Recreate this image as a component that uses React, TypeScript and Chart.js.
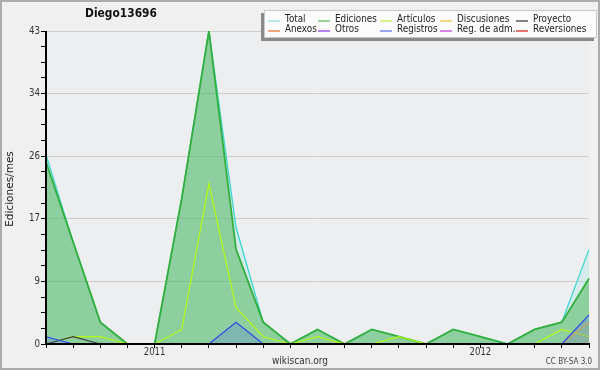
import React, { useEffect, useRef } from 'react';
import { Chart, registerables } from 'chart.js';
Chart.register(...registerables);

const months = ['2010-09','2010-10','2010-11','2010-12','2011-01','2011-02','2011-03','2011-04','2011-05','2011-06','2011-07','2011-08','2011-09','2011-10','2011-11','2011-12','2012-01','2012-02','2012-03','2012-04','2012-05'];
const xTickLabels = ['','','','','2011','','','','','','','','','','','','2012','','','',''];
const yMax = 43;
const yTickValues = [0, 8.6, 17.2, 25.8, 34.4, 43];
const yTickLabels = ['0', '9', '17', '26', '34', '43'];

const total =       [26,14,3,0,0,20,43,16,3,0,2,0,2,1,0,2,1,0,2,3,13];
const ediciones =   [25,14,3,0,0,20,43,13,3,0,2,0,2,1,0,2,1,0,2,3,9];
const articulos =   [0,1,1,0,0,2,22,5,1,0,1,0,0,1,0,0,0,0,0,2,1];
const discusiones = [0,0,0,0,0,0,0,0,0,0,0,0,0,0,0,0,0,0,0,0,3];
const proyecto =    [0,1,0,0,0,0,0,0,0,0,0,0,0,0,0,0,0,0,0,0,0];
const anexos =      [0,0,0,0,0,0,0,0,0,0,0,0,0,0,0,0,0,0,0,0,0];
const otros =       [0,0,0,0,0,0,0,0,0,0,0,0,0,0,0,0,0,0,0,0,0];
const registros =   [1,0,0,0,0,0,0,3,0,0,0,0,0,0,0,0,0,0,0,0,4];
const regAdm =      [0,0,0,0,0,0,0,0,0,0,0,0,0,0,0,0,0,0,0,0,0];
const reversiones = [0,0,0,0,0,0,0,0,0,0,0,0,0,0,0,0,0,0,0,0,0];

const seriesNames = ['Total','Ediciones','Artículos','Discusiones','Proyecto','Anexos','Otros','Registros','Reg. de adm.','Reversiones'];
const seriesData = [total, ediciones, articulos, discusiones, proyecto, anexos, otros, registros, regAdm, reversiones];
const lineColors = ['rgb(60,215,205)','rgb(50,175,60)','rgb(180,250,20)','rgb(225,180,70)','rgb(60,60,60)','rgb(240,120,70)','rgb(140,60,230)','rgb(50,70,240)','rgb(190,70,220)','rgb(220,50,50)'];
const fillColors = ['rgba(90,225,215,0.16)','rgba(70,180,80,0.5)',false,'rgba(225,180,70,0.15)',false,false,false,'rgba(60,80,255,0.18)',false,false];
const legendColors = ['rgb(160,228,228)','rgb(120,200,120)','rgb(200,240,100)','rgb(240,205,90)','rgb(90,90,90)','rgb(240,135,85)','rgb(160,90,235)','rgb(125,135,240)','rgb(205,95,225)','rgb(225,70,70)'];
const lineWidths = [1.3,1.8,1.2,1.2,1.2,1,1,1.2,1,1];

const FONT = '"DejaVu Sans", sans-serif';

function drawText(ctx: CanvasRenderingContext2D, s: string, x: number, y: number, font: string, color: string, align: CanvasTextAlign, sx = 1, rot = 0) {
  ctx.save();
  ctx.font = font;
  ctx.fillStyle = color;
  ctx.textBaseline = 'middle';
  ctx.textAlign = align;
  ctx.translate(x, y);
  if (rot) ctx.rotate(rot);
  ctx.scale(sx, 1);
  ctx.fillText(s, 0, 0);
  ctx.restore();
}

const decorPlugin = {
  id: 'decor',
  beforeDraw(chart: any) {
    const ctx = chart.ctx as CanvasRenderingContext2D;
    const { left, right, top, bottom } = chart.chartArea;
    ctx.save();
    ctx.fillStyle = '#f0f0f0';
    ctx.fillRect(0, 0, chart.width, chart.height);
    ctx.strokeStyle = '#ababab';
    ctx.lineWidth = 2;
    ctx.strokeRect(1, 1, chart.width - 2, chart.height - 2);
    ctx.fillStyle = '#edeef0';
    ctx.fillRect(left, top, right - left, bottom - top);
    ctx.restore();
  },
  afterDatasetsDraw(chart: any) {
    const ctx = chart.ctx as CanvasRenderingContext2D;
    const { left, right, top, bottom } = chart.chartArea;
    ctx.save();
    ctx.strokeStyle = '#000';
    ctx.lineWidth = 2;
    ctx.beginPath();
    ctx.moveTo(left - 1, bottom);
    ctx.lineTo(right + 1, bottom);
    ctx.moveTo(left, top);
    ctx.lineTo(left, bottom + 1);
    ctx.stroke();
    ctx.restore();
  },
  afterDraw(chart: any) {
    const ctx = chart.ctx as CanvasRenderingContext2D;
    const xs = chart.scales.x;
    const ys = chart.scales.y;
    drawText(ctx, 'Diego13696', 121, 14, `bold 13px ${FONT}`, '#111', 'center', 0.82);
    yTickValues.forEach((v, i) => {
      drawText(ctx, yTickLabels[i], 40, ys.getPixelForValue(v), `10px ${FONT}`, '#333', 'right', 0.87);
    });
    xTickLabels.forEach((l, i) => {
      if (l) drawText(ctx, l, xs.getPixelForValue(i), 352, `10px ${FONT}`, '#333', 'center', 0.85);
    });
    drawText(ctx, 'Ediciones/mes', 10, 189, `10.5px ${FONT}`, '#222', 'center', 1, -Math.PI / 2);
    drawText(ctx, 'wikiscan.org', 300, 361, `10px ${FONT}`, '#333', 'center', 0.9);
    drawText(ctx, 'CC BY-SA 3.0', 569, 362, `8px ${FONT}`, '#444', 'center', 0.9);
    ctx.save();
    ctx.fillStyle = '#8a8a8a';
    ctx.fillRect(261, 13, 333, 28);
    ctx.fillStyle = '#fbfbfb';
    ctx.fillRect(264, 10, 333, 28);
    ctx.strokeStyle = '#c8c8c8';
    ctx.lineWidth = 1;
    ctx.strokeRect(264.5, 10.5, 332, 27);
    ctx.restore();
    const colX = [285, 335, 397, 457, 533];
    const rowY = [19.5, 29.5];
    seriesNames.forEach((name, i) => {
      const r = Math.floor(i / 5);
      const c = i % 5;
      const tx = colX[c];
      const ty = rowY[r];
      ctx.save();
      ctx.strokeStyle = legendColors[i];
      ctx.lineWidth = 1.5;
      ctx.beginPath();
      ctx.moveTo(tx - 17, ty + 1.5);
      ctx.lineTo(tx - 5, ty + 1.5);
      ctx.stroke();
      ctx.restore();
      drawText(ctx, name, tx, ty, `11px ${FONT}`, '#222', 'left', 0.8);
    });
  },
};

export default function App() {
  const ref = useRef<HTMLCanvasElement>(null);
  useEffect(() => {
    document.body.style.margin = '0';
    const canvas = ref.current!;
    const majorSet = new Set(yTickValues.map((v) => v.toFixed(3)));
    const chart = new Chart(canvas, {
      type: 'line',
      data: {
        labels: months,
        datasets: seriesNames.map((name, i) => ({
          label: name,
          data: seriesData[i],
          borderColor: lineColors[i],
          backgroundColor: (fillColors[i] || 'transparent') as string,
          fill: fillColors[i] ? 'origin' : false,
          borderWidth: lineWidths[i],
          pointRadius: 0,
          tension: 0,
          order: 20 - i,
        })),
      },
      options: {
        animation: false,
        responsive: false,
        events: [],
        layout: { padding: { left: 6, right: 11, top: 31, bottom: 0 } },
        plugins: { legend: { display: false }, title: { display: false }, tooltip: { enabled: false } },
        scales: {
          x: {
            type: 'category',
            offset: false,
            grid: { drawOnChartArea: false, color: '#000', tickColor: '#000', tickLength: 4, lineWidth: 1 },
            border: { display: false },
            ticks: { display: false, autoSkip: false },
            afterFit: (s: any) => { s.height = 26; },
          },
          y: {
            min: 0,
            max: yMax,
            grid: {
              color: (c: any) => (c.tick && majorSet.has(Number(c.tick.value).toFixed(3)) ? '#cdcdcd' : 'transparent'),
              tickColor: '#000',
              tickLength: 5,
              lineWidth: 1,
            },
            border: { display: false },
            ticks: { display: false, autoSkip: false },
            afterBuildTicks: (s: any) => {
              const t: any[] = [];
              for (let k = 0; k < yTickValues.length; k++) {
                t.push({ value: yTickValues[k] });
                if (k < yTickValues.length - 1) {
                  const a = yTickValues[k];
                  const b = yTickValues[k + 1];
                  for (let m = 1; m < 4; m++) t.push({ value: a + ((b - a) * m) / 4 });
                }
              }
              s.ticks = t;
            },
            afterFit: (s: any) => { s.width = 40; },
          },
        },
      },
      plugins: [decorPlugin],
    } as any);
    return () => chart.destroy();
  }, []);
  return (
    <div style={{ width: 600, height: 370 }}>
      <canvas ref={ref} width={600} height={370} style={{ display: 'block', width: 600, height: 370 }} />
    </div>
  );
}
